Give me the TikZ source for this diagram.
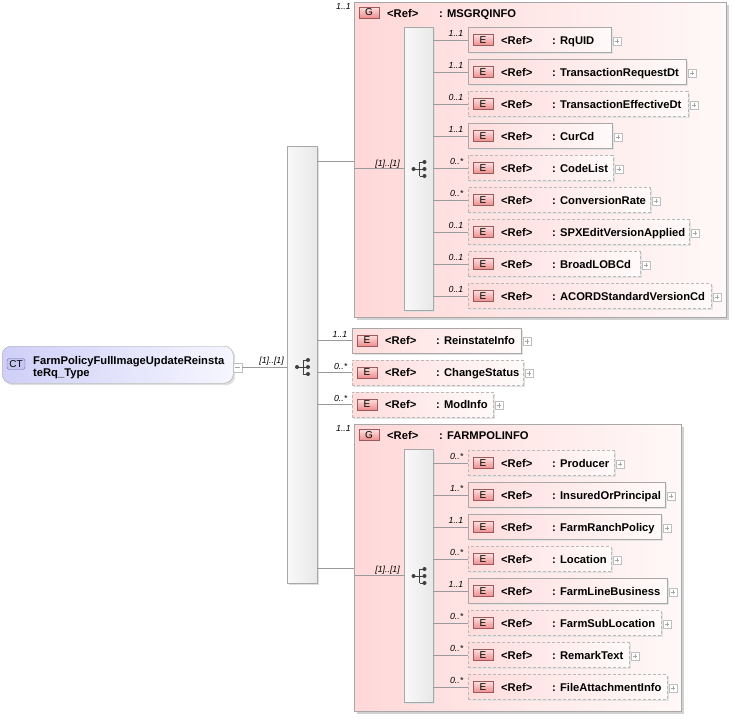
\documentclass[tikz,border=0pt]{standalone}
\usepackage{fontspec}
\setmainfont{Liberation Sans}
\usetikzlibrary{shadows}
\definecolor{grpL}{HTML}{FFD8D8}
\definecolor{grpR}{HTML}{FFF8F8}
\definecolor{elL}{HTML}{FFDCDC}
\definecolor{elR}{HTML}{FFFAFA}
\definecolor{bdr}{HTML}{A8A8A8}
\definecolor{lnc}{HTML}{9A9A9A}
\definecolor{bdgT}{HTML}{FCE0E0}
\definecolor{bdgB}{HTML}{EE8C8C}
\definecolor{bdgD}{HTML}{9C5A5A}
\definecolor{ctL}{HTML}{CFCFF8}
\definecolor{ctR}{HTML}{F6F6FF}
\definecolor{ctB}{HTML}{C6C6F2}
\definecolor{ctD}{HTML}{6A6AA8}
\definecolor{icn}{HTML}{404040}

\newcommand\Elem[8]{% #1 style, #2 id, #3 left, #4 cy, #5 right, #6 name, #7 occ, #8 compositor
  \pgfmathsetmacro\elw{#5-#3}%
  \node[ebox,#1,anchor=west,minimum width=\elw pt] (#2) at (#3,#4) {};
  \node[badge] (#2b) at (#3+15,#4) {E};
  \node[reft] (#2r) at (#3+33,#4+4) {<Ref>};
  \node[reft] (#2n) at (#3+84,#4+4) {: #6};
  \node[plusbox] (#2p) at (#5+6,#4+1) {};
  \node[occ] (#2o) at (#3-4.5,#4-3.5) {#7};
  \draw[conn] (#8.east |- #2.west) -- (#2.west);
}
\newcommand\SeqIcon[2]{%
  \draw[icn, line width=0.8pt] (#1-5,#2) -- (#1+1,#2)
     (#1+1,#2-7) -- (#1+1,#2+7)
     (#1+1,#2-7) -- (#1+6,#2-7)
     (#1+1,#2) -- (#1+6,#2)
     (#1+1,#2+7) -- (#1+6,#2+7);
  \fill[icn] (#1-5,#2) circle[radius=2pt] (#1+6,#2-7) circle[radius=2pt]
     (#1+6,#2) circle[radius=2pt] (#1+6,#2+7) circle[radius=2pt];
}

\begin{document}
\begin{tikzpicture}[x=1pt,y=-1pt,
  grp/.style={draw=bdr, line width=0.9pt, left color=grpL, right color=grpR,
    anchor=north west, inner sep=0,
    general shadow={shadow xshift=3pt, shadow yshift=-3pt, fill=gray!35}},
  comp/.style={draw=bdr, left color=gray!5, right color=gray!18,
    anchor=north west, inner sep=0,
    general shadow={shadow xshift=2pt, shadow yshift=-2pt, fill=gray!25}},
  ebox/.style={draw=bdr, left color=elL, right color=elR, minimum height=25pt, inner sep=0,
    general shadow={shadow xshift=1.5pt, shadow yshift=-1.5pt, fill=gray!22}},
  solid/.style={},
  opt/.style={dash pattern=on 3pt off 2pt, draw=gray!55},
  badge/.style={draw=bdgD, top color=bdgT, bottom color=bdgB, minimum width=20pt,
    minimum height=11pt, inner sep=0, font=\fontsize{10}{10}\selectfont},
  occ/.style={font=\fontsize{8.8}{9}\selectfont\itshape, inner sep=0, anchor=base east},
  reft/.style={font=\fontsize{11.2}{13}\selectfont\bfseries, inner sep=0, anchor=base west},
  conn/.style={draw=lnc, line width=0.7pt},
  plusbox/.style={draw=gray!50, fill=white, minimum size=8pt, inner sep=0,
    path picture={\draw[gray!70, line width=0.5pt]
      ([xshift=1.6pt]path picture bounding box.west) -- ([xshift=-1.6pt]path picture bounding box.east)
      ([yshift=-1.6pt]path picture bounding box.north) -- ([yshift=1.6pt]path picture bounding box.south);}},
  minusbox/.style={draw=gray!50, fill=white, minimum size=9pt, inner sep=0,
    path picture={\draw[gray!70, line width=0.5pt]
      ([xshift=1.6pt]path picture bounding box.west) -- ([xshift=-1.6pt]path picture bounding box.east);}},
]
\useasboundingbox (0,0) rectangle (733,718);

% root complex type
\node[draw=bdr, rounded corners=9pt, left color=ctL, right color=ctR, anchor=north west,
  minimum width=231pt, minimum height=37pt, inner sep=0,
  general shadow={shadow xshift=2pt, shadow yshift=-2pt, fill=gray!25}] (ct) at (2,346) {};
\node[draw=ctD, fill=ctB, rounded corners=2.5pt, minimum width=18pt, minimum height=11pt,
  inner sep=0, font=\fontsize{10}{10}\selectfont] (ctb) at (16,364) {CT};
\node[reft] (ct1) at (33,364) {FarmPolicyFullImageUpdateReinsta};
\node[reft] (ct2) at (33,376) {teRq\_Type};
\node[minusbox] (ctm) at (237.5,367.5) {};

% outer sequence
\node[comp, minimum width=30pt, minimum height=437pt] (c0) at (287,146) {};
\draw[conn] (ctm.east) -- (c0.west |- ctm.east);
\node[occ] (c0o) at (284,363) {[1]..[1]};
\SeqIcon{302}{367}

% group MSGRQINFO
\node[grp, minimum width=372pt, minimum height=315pt] (g1) at (354,2) {};
\node[badge] (g1b) at (369,12.5) {G};
\node[reft] (g1r) at (387,17) {<Ref>};
\node[reft] (g1n) at (439,17) {: MSGRQINFO};
\node[occ] (g1o) at (351,9) {1..1};
\coordinate (y1) at (0,161);
\draw[conn] (c0.east |- y1) -- (g1.west |- y1);
\node[comp, minimum width=29pt, minimum height=283pt] (c1) at (404,27) {};
\draw[conn] (g1.west |- c1.west) -- (c1.west);
\node[occ] (c1o) at (400,166) {[1]..[1]};
\SeqIcon{418.5}{169}

\Elem{solid}{e1}{468}{40}{611}{RqUID}{1..1}{c1}
\Elem{solid}{e2}{468}{72}{686}{TransactionRequestDt}{1..1}{c1}
\Elem{opt}{e3}{468}{104}{688}{TransactionEffectiveDt}{0..1}{c1}
\Elem{solid}{e4}{468}{136}{612}{CurCd}{1..1}{c1}
\Elem{opt}{e5}{468}{168}{613}{CodeList}{0..*}{c1}
\Elem{opt}{e6}{468}{200}{650}{ConversionRate}{0..*}{c1}
\Elem{opt}{e7}{468}{232}{689}{SPXEditVersionApplied}{0..1}{c1}
\Elem{opt}{e8}{468}{264}{640}{BroadLOBCd}{0..1}{c1}
\Elem{opt}{e9}{468}{296}{711}{ACORDStandardVersionCd}{0..1}{c1}

% direct elements
\Elem{solid}{m1}{352}{340.5}{521}{ReinstateInfo}{1..1}{c0}
\Elem{opt}{m2}{352}{372.5}{523}{ChangeStatus}{0..*}{c0}
\Elem{opt}{m3}{352}{404.5}{493}{ModInfo}{0..*}{c0}

% group FARMPOLINFO
\node[grp, minimum width=327pt, minimum height=287pt] (g2) at (354,424) {};
\node[badge] (g2b) at (369,435) {G};
\node[reft] (g2r) at (387,439) {<Ref>};
\node[reft] (g2n) at (439,439) {: FARMPOLINFO};
\node[occ] (g2o) at (351,431) {1..1};
\coordinate (y2) at (0,568);
\draw[conn] (c0.east |- y2) -- (g2.west |- y2);
\node[comp, minimum width=29pt, minimum height=253pt] (c2) at (404,449) {};
\draw[conn] (g2.west |- c2.west) -- (c2.west);
\node[occ] (c2o) at (400,572) {[1]..[1]};
\SeqIcon{418.5}{576}

\Elem{opt}{f1}{468}{463}{614}{Producer}{0..*}{c2}
\Elem{solid}{f2}{468}{495}{665}{InsuredOrPrincipal}{1..*}{c2}
\Elem{solid}{f3}{468}{527}{661}{FarmRanchPolicy}{1..1}{c2}
\Elem{opt}{f4}{468}{559}{611}{Location}{0..*}{c2}
\Elem{solid}{f5}{468}{591}{667}{FarmLineBusiness}{1..1}{c2}
\Elem{opt}{f6}{468}{623}{661}{FarmSubLocation}{0..*}{c2}
\Elem{opt}{f7}{468}{655}{629}{RemarkText}{0..*}{c2}
\Elem{opt}{f8}{468}{687}{667}{FileAttachmentInfo}{0..*}{c2}
\end{tikzpicture}
\end{document}
